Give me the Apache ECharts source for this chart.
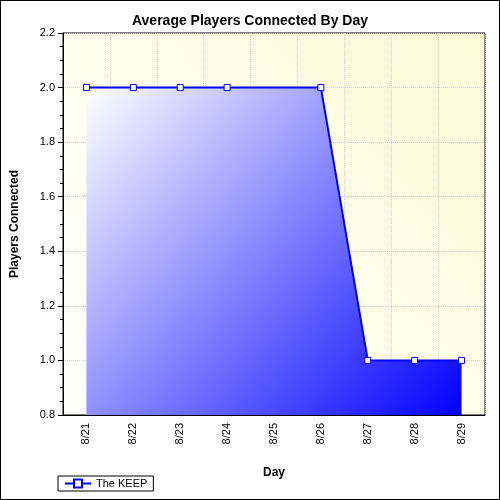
<!DOCTYPE html>
<html>
<head>
<meta charset="UTF-8">
<script src="https://cdn.jsdelivr.net/npm/echarts@6/dist/echarts.min.js"></script>
<style>
  html, body { margin: 0; padding: 0; background: #fff; }
  #chart { width: 498px; height: 498px; border: 1px solid #000; }
</style>
</head>
<body>
<div id="chart"></div>
<script>
// data
var days = ['8/21', '8/22', '8/23', '8/24', '8/25', '8/26', '8/27', '8/28', '8/29'];
var players = [2, 2, 2, 2, null, 2, 1, 1, 1];

var chart = echarts.init(document.getElementById('chart'));
chart.setOption({
  backgroundColor: '#fff',
  animation: false,
  title: {
    text: 'Average Players Connected By Day',
    left: 'center', top: 8,
    textStyle: { fontFamily: 'Arial', fontSize: 14, fontWeight: 'bold', color: '#000' }
  },
  grid: {
    left: 57, right: 14, top: 32, bottom: 84, containLabel: false,
    show: true, borderColor: '#000', borderWidth: 1,
    backgroundColor: new echarts.graphic.LinearGradient(0, 1, 1, 0, [
      { offset: 0, color: '#ffffff' },
      { offset: 1, color: '#fdfdd8' }
    ])
  },
  legend: {
    left: 57, bottom: 8,
    itemWidth: 26, itemHeight: 10,
    borderColor: '#000', borderWidth: 1, borderRadius: 0, padding: [2, 6],
    textStyle: { fontFamily: 'Arial', fontSize: 11, color: '#000' },
    data: ['The KEEP']
  },
  xAxis: {
    type: 'category', data: days, boundaryGap: true,
    name: 'Day', nameLocation: 'middle', nameGap: 52,
    nameTextStyle: { fontFamily: 'Arial', fontSize: 12, fontWeight: 'bold', color: '#000' },
    axisLine: { lineStyle: { color: '#000' } },
    axisTick: { alignWithLabel: true, length: 5, lineStyle: { color: '#000' } },
    axisLabel: { rotate: 90, fontFamily: 'Arial', fontSize: 11, color: '#000', margin: 8 },
    splitLine: { show: true, interval: 0, lineStyle: { color: '#ccc', type: 'dotted' } }
  },
  yAxis: {
    type: 'value', min: 0.8, max: 2.2, interval: 0.2,
    name: 'Players Connected', nameLocation: 'middle', nameGap: 42,
    nameTextStyle: { fontFamily: 'Arial', fontSize: 12, fontWeight: 'bold', color: '#000' },
    axisLine: { show: true, lineStyle: { color: '#000' } },
    axisTick: { show: true, length: 5, lineStyle: { color: '#000' } },
    minorTick: { show: true, splitNumber: 4, length: 3, lineStyle: { color: '#000' } },
    axisLabel: { fontFamily: 'Arial', fontSize: 11, color: '#000', formatter: function (v) { return v.toFixed(1); } },
    splitLine: { show: true, lineStyle: { color: '#ccc', type: 'dotted' } }
  },
  series: [{
    name: 'The KEEP', type: 'line', data: players, connectNulls: true,
    symbol: 'rect', symbolSize: 6,
    itemStyle: { color: '#fff', borderColor: '#0000ff', borderWidth: 1 },
    lineStyle: { color: '#0000ff', width: 2 },
    areaStyle: {
      opacity: 1,
      color: new echarts.graphic.LinearGradient(0, 0, 1, 1, [
        { offset: 0, color: '#ffffff' },
        { offset: 1, color: '#0000ff' }
      ])
    }
  }]
});
</script>
</body>
</html>
